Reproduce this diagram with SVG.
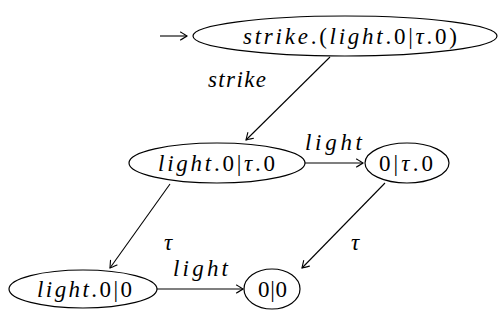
<svg xmlns="http://www.w3.org/2000/svg" width="501" height="320" viewBox="0 0 501 320">
  <defs>
    <!-- open curved arrow tip, like a LaTeX "to" head -->
    <marker id="to" viewBox="-8 -5 10 10" refX="0" refY="0" markerWidth="10" markerHeight="10" markerUnits="userSpaceOnUse" orient="auto">
      <path d="M -6.5 -4 Q -1.5 -1 0 0 Q -1.5 1 -6.5 4" fill="none" stroke="#000" stroke-width="1.1" stroke-linecap="round"/>
    </marker>
  </defs>

  <g id="connectors">
    <g fill="none" stroke="#000" stroke-width="1.1" marker-end="url(#to)">
      <line x1="160" y1="36" x2="187" y2="36"/>
      <line x1="330" y1="57" x2="246" y2="140"/>
      <line x1="305" y1="163" x2="363" y2="163"/>
      <line x1="170" y1="184" x2="110" y2="268"/>
      <line x1="385" y1="183" x2="302" y2="268"/>
      <line x1="157" y1="289" x2="243" y2="289"/>
    </g>
    <text font-family="Liberation Serif" font-size="23" font-style="italic" x="208" y="87" textLength="58" lengthAdjust="spacing">strike</text>
    <text font-family="Liberation Serif" font-size="23" font-style="italic" x="305" y="150" textLength="57" lengthAdjust="spacing">light</text>
    <text font-family="Liberation Serif" font-size="23" font-style="italic" x="168" y="250" text-anchor="middle">τ</text>
    <text font-family="Liberation Serif" font-size="23" font-style="italic" x="355" y="250" text-anchor="middle">τ</text>
    <text font-family="Liberation Serif" font-size="23" font-style="italic" x="173" y="276" textLength="55" lengthAdjust="spacing">light</text>
  </g>

  <g id="n0">
    <ellipse cx="345" cy="36" rx="152" ry="20" fill="none" stroke="#000" stroke-width="1.2"/>
    <text font-family="Liberation Serif" font-size="23" x="243" y="44" textLength="214" lengthAdjust="spacing"><tspan font-style="italic">strike</tspan>.(<tspan font-style="italic">light</tspan>.0|<tspan font-style="italic">τ</tspan>.0)</text>
  </g>
  <g id="n1">
    <ellipse cx="217" cy="163" rx="88" ry="20" fill="none" stroke="#000" stroke-width="1.2"/>
    <text font-family="Liberation Serif" font-size="23" x="158" y="171" textLength="117" lengthAdjust="spacing"><tspan font-style="italic">light</tspan>.0|<tspan font-style="italic">τ</tspan>.0</text>
  </g>
  <g id="n2">
    <ellipse cx="407" cy="163" rx="42" ry="20" fill="none" stroke="#000" stroke-width="1.2"/>
    <text font-family="Liberation Serif" font-size="23" x="379" y="171" textLength="54" lengthAdjust="spacing">0|<tspan font-style="italic">τ</tspan>.0</text>
  </g>
  <g id="n3">
    <ellipse cx="83" cy="289" rx="74" ry="19" fill="none" stroke="#000" stroke-width="1.2"/>
    <text font-family="Liberation Serif" font-size="23" x="37" y="297" textLength="95" lengthAdjust="spacing"><tspan font-style="italic">light</tspan>.0|0</text>
  </g>
  <g id="n4">
    <ellipse cx="272" cy="289" rx="28" ry="20" fill="none" stroke="#000" stroke-width="1.2"/>
    <text font-family="Liberation Serif" font-size="23" x="258" y="297" textLength="29" lengthAdjust="spacing">0|0</text>
  </g>
</svg>
